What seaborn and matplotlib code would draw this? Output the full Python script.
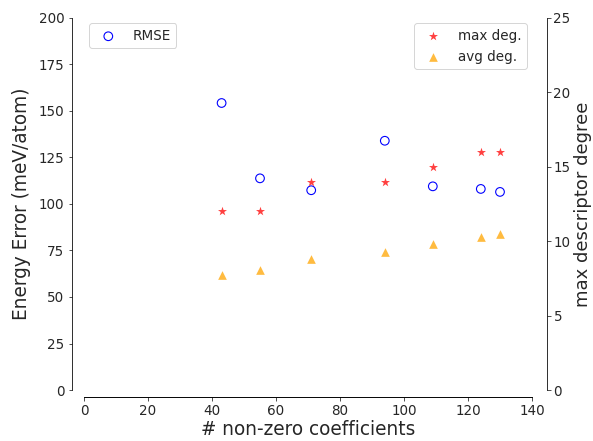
import numpy as np
import pandas as pd
import matplotlib
matplotlib.use('Agg')
import matplotlib.pyplot as plt
import seaborn as sns

# values
n_coeffs = [43, 55, 71, 94, 109, 124, 130]
rmse = [154.3, 113.8, 107.4, 134.0, 109.5, 108.1, 106.5]
max_deg = [12, 12, 14, 14, 15, 16, 16]
avg_deg = [7.75, 8.05, 8.8, 9.3, 9.8, 10.25, 10.5]

df = pd.DataFrame({'n': n_coeffs, 'rmse': rmse, 'max_deg': max_deg, 'avg_deg': avg_deg})

sns.set_style('ticks', rc={'text.color': '.15', 'xtick.color': '.15', 'ytick.color': '.15',
                           'axes.labelcolor': '.15', 'axes.edgecolor': 'black',
                           'xtick.major.size': 3.5, 'ytick.major.size': 3.5,
                           'xtick.major.width': 0.8, 'ytick.major.width': 0.8,
                           'axes.linewidth': 0.8})
plt.rcParams['font.family'] = ['DejaVu Sans']

fig = plt.figure(figsize=(593 / 72, 441 / 72), dpi=72)
ax = fig.add_axes([84 / 593, 1 - 390 / 441, 448 / 593, 372 / 441])
ax2 = ax.twinx()

sns.scatterplot(data=df, x='n', y='rmse', ax=ax, marker='o', s=75,
                facecolors='none', edgecolor='blue', linewidth=1.1, label='RMSE')
sns.scatterplot(data=df, x='n', y='max_deg', ax=ax2, marker='*', s=90,
                color='red', alpha=0.75, linewidth=0, label='max deg.')
sns.scatterplot(data=df, x='n', y='avg_deg', ax=ax2, marker='^', s=75,
                color='orange', alpha=0.75, linewidth=0, label='avg deg.')

ax.set_xlim(0, 140)
ax.set_ylim(0, 200)
ax2.set_ylim(0, 25)
ax.set_xticks(np.arange(0, 141, 20))
ax.set_yticks(np.arange(0, 201, 25))
ax2.set_yticks(np.arange(0, 26, 5))

for a in (ax, ax2):
    a.spines['top'].set_visible(False)
    a.spines['bottom'].set_position(('outward', 7))
    a.tick_params(labelsize=13.5)
ax.spines['right'].set_visible(False)
ax.spines['left'].set_position(('outward', 12.5))
ax2.spines['left'].set_visible(False)
ax2.spines['right'].set_position(('outward', 14.5))

ax.set_xlabel('# non-zero coefficients', fontsize=18.5, labelpad=2)
ax.set_ylabel('Energy Error (meV/atom)', fontsize=18.5, labelpad=8)
ax2.set_ylabel('max descriptor degree', fontsize=18, labelpad=3)

ax.legend(loc='upper left', fontsize=13.5, borderaxespad=0.4)
ax2.legend(loc='upper right', fontsize=13.5, borderaxespad=0.4)

fig.savefig('out.png', dpi=72)
